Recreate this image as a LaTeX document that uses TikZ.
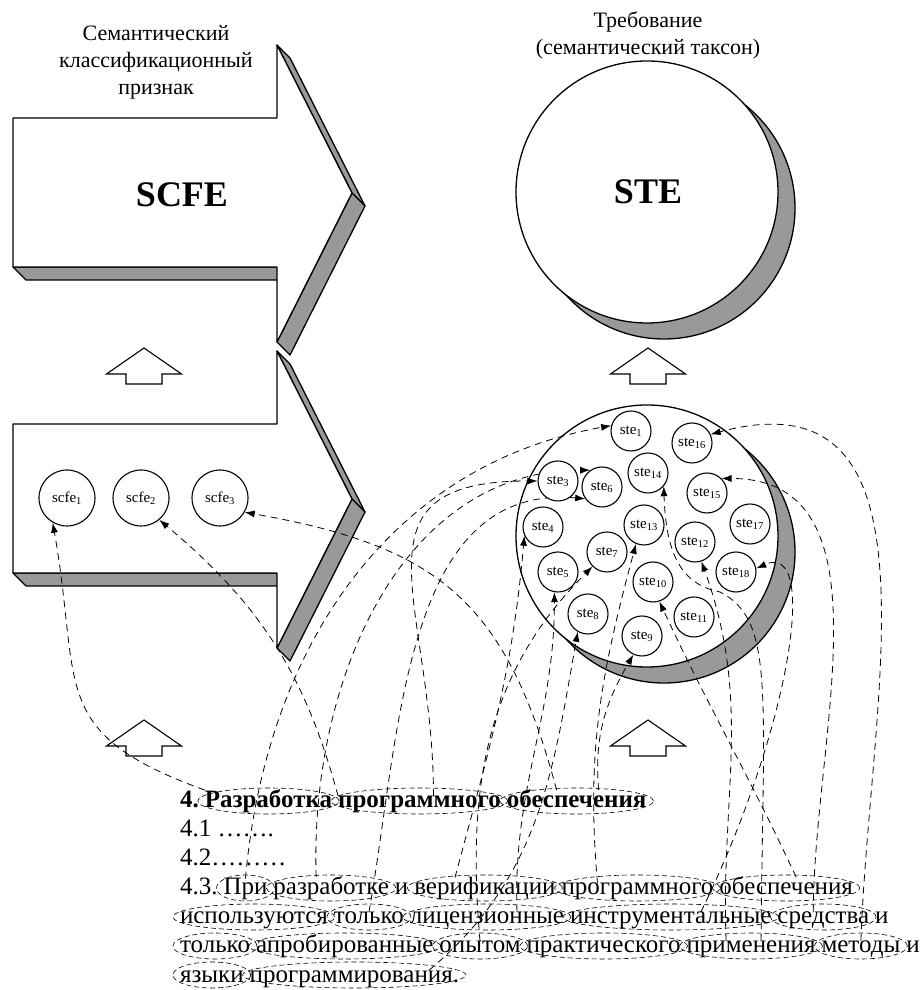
\documentclass[tikz,border=0pt]{standalone}
\usepackage{fontspec}
\setmainfont{Liberation Serif}
\usetikzlibrary{arrows.meta,positioning,calc}
\pgfdeclarelayer{shapes}
\pgfdeclarelayer{links}
\pgfsetlayers{shapes,links,main}
\newcommand\wordfont{\fontsize{25}{29}\selectfont}
\newcommand\capfont{\fontsize{22}{27}\selectfont}
\tikzset{
  frontface/.style={draw,line width=1.3pt,fill=white,line join=round},
  sideface/.style ={draw,line width=1.3pt,fill=black!40,line join=round},
  ste/.style      ={circle,draw,line width=1.1pt,fill=white,inner sep=0pt,minimum size=40pt,font=\fontsize{15}{16}\selectfont},
  scfe/.style     ={ste,minimum size=56pt},
  bigname/.style  ={font=\bfseries\fontsize{36}{40}\selectfont},
  caption/.style  ={align=center,font=\capfont},
  word/.style     ={inner sep=0pt,outer sep=0pt,font=\wordfont},
  boldword/.style ={word,font=\bfseries\wordfont},
  oval/.style     ={line width=0.6pt,dash pattern=on 5pt off 3pt},
  link/.style     ={line width=0.8pt,dash pattern=on 7pt off 5pt,-{Latex[length=10pt,width=7pt]}},
  upblock/.pic    ={\draw[line width=1.1pt,fill=white] (0,0) -- (37.5,-26) -- (18,-26) -- (18,-36)
                      -- (-18,-36) -- (-18,-26) -- (-37.5,-26) -- cycle;}
}

\begin{document}
\begin{tikzpicture}[x=1pt,y=1pt,node distance=6pt]
  \useasboundingbox (0,0) rectangle (920,990);

  % block arrows and discs with their shadows
  \begin{pgfonlayer}{shapes}
    \foreach \dy in {0,-306}{
      \begin{scope}[yshift=\dy pt]
        \draw[sideface] (13,723) -- (277,723) -- (290,710) -- (26,710) -- cycle;
        \draw[sideface] (277,945) -- (290,932) -- (365,784) -- (352,797) -- cycle;
        \draw[sideface] (352,797) -- (365,784) -- (290,635) -- (277,648) -- cycle;
        \draw[frontface] (13,872) -- (277,872) -- (277,945) -- (352,797) -- (277,648)
          -- (277,723) -- (13,723) -- cycle;
      \end{scope}}
    \draw[sideface] (664,782) circle (131);
    \draw[frontface] (647,798) circle (131);
    \draw[sideface] (664,438) circle (131);
    \draw[frontface] (647,454) circle (131);
    \foreach \x/\y in {144/642,648/642,144/270,648/270}
      \pic at (\x,\y) {upblock};
  \end{pgfonlayer}

  \node[bigname] (scfename) at (182,795) {SCFE};
  \node[bigname] (stename) at (648,798) {STE};
  \node[caption] (scfecap) at (156,928) {Семантический\\классификационный\\признак};
  \node[caption] (stecap) at (648,955) {Требование\\(семантический таксон)};

  \foreach \i/\x in {1/67,2/141,3/220}
    \node[scfe] (scfe\i) at (\x,492) {scfe\textsubscript{\i}};
  \foreach \i/\x/\y in {1/631/559,3/558/509,4/543/463,5/558/418,6/602/503,7/607/438,
                        8/588/376,9/642/354,10/653/408,11/694/373,12/695/448,13/644/465,
                        14/648/517,15/707/497,16/692/547,17/750/466,18/736/418}
    \node[ste] (ste\i) at (\x,\y) {ste\textsubscript{\i}};

  % requirement text, word by word
  \node[boldword,anchor=base west] (L1-1) at (180,182) {4.};
  \node[boldword,base right=of L1-1] (L1-2) {Разработка};
  \node[boldword,base right=of L1-2] (L1-3) {программного};
  \node[boldword,base right=of L1-3] (L1-4) {обеспечения};
  \node[word,anchor=base west] (L2) at (180,153) {4.1 …….};
  \node[word,anchor=base west] (L3) at (180,124) {4.2………};
  \node[word,anchor=base west] (L4-1) at (180,95) {4.3.};
  \node[word,base right=of L4-1] (L4-2) {При};
  \node[word,base right=of L4-2] (L4-3) {разработке};
  \node[word,base right=of L4-3] (L4-4) {и};
  \node[word,base right=of L4-4] (L4-5) {верификации};
  \node[word,base right=of L4-5] (L4-6) {программного};
  \node[word,base right=of L4-6] (L4-7) {обеспечения};
  \node[word,anchor=base west] (L5-1) at (180,66) {используются};
  \node[word,base right=of L5-1] (L5-2) {только};
  \node[word,base right=of L5-2] (L5-3) {лицензионные};
  \node[word,base right=of L5-3] (L5-4) {инструментальные};
  \node[word,base right=of L5-4] (L5-5) {средства};
  \node[word,base right=of L5-5] (L5-6) {и};
  \node[word,anchor=base west] (L6-1) at (180,37) {только};
  \node[word,base right=of L6-1] (L6-2) {апробированные};
  \node[word,base right=of L6-2] (L6-3) {опытом};
  \node[word,base right=of L6-3] (L6-4) {практического};
  \node[word,base right=of L6-4] (L6-5) {применения};
  \node[word,base right=of L6-5] (L6-6) {методы};
  \node[word,base right=of L6-6] (L6-7) {и};
  \node[word,anchor=base west] (L7-1) at (180,8) {языки};
  \node[word,base right=of L7-1] (L7-2) {программирования.};

  \foreach \w in {L1-2,L1-3,L1-4,L4-2,L4-3,L4-5,L4-6,L4-7,L5-1,L5-2,L5-3,L5-4,L5-5,
                  L6-1,L6-2,L6-3,L6-4,L6-5,L6-6,L7-1,L7-2}
    \draw[oval] let \p1=($(\w.east)-(\w.west)$) in
      ([yshift=7pt]\w.base) ellipse [x radius=0.5*\x1+7pt, y radius=13pt];

  % links from words to features and taxa
  \coordinate (k14) at (720,398);
  \begin{pgfonlayer}{links}
    \draw[link] (L1-2.north west) to[out=160,in=-80,looseness=1.4] (scfe1.-120);
    \draw[link] (L1-3.north west) to[out=105,in=-40] (scfe2.-50);
    \draw[link] ([xshift=-20pt]L1-4.north) to[out=105,in=-10,looseness=1.2] (scfe3.-30);
    \draw[link] (L4-2.north) to[out=85,in=190] (ste1.165);
    \draw[link] ([xshift=-15pt]L4-3.north) to[out=92,in=180] (ste6.125);
    \draw[link] ([xshift=14pt]L1-3.north) to[out=90,in=180,looseness=1.5] (ste3.west);
    \draw[link] (L5-2.north) to[out=80,in=175] (ste6.215);
    \draw[link] ([xshift=-30pt]L4-5.north) to[out=75,in=-95] (ste4.205);
    \draw[link] ([xshift=30pt]L5-3.north) to[out=92,in=-90] (ste5.-100);
    \draw[link] (L6-3.north) to[out=95,in=-135] (ste7.-135);
    \draw[link] ([xshift=-30pt]L7-2.north east) to[out=40,in=-100] (ste8.-120);
    \draw[link] ([xshift=22pt]L1-4.north) to[out=95,in=-120] (ste9.-115);
    \draw[link] ([xshift=-40pt]L4-6.north) to[out=95,in=-105] (ste13.-113);
    \draw[link] ([xshift=10pt]L4-7.north) to[out=115,in=-65] (ste10.-72);
    \draw[link] ([xshift=-25pt]L6-5.north) to[out=92,in=-70] (ste12.-72);
    \draw[link] ([xshift=10pt]L6-5.north) .. controls +(2,250) and (775,370) .. (k14)
      .. controls (685,405) and (666,430) .. (ste14.-40);
    \draw[link] ([xshift=-10pt]L5-5.north) to[out=90,in=0] (ste15.45);
    \draw[link] (L6-6.north) to[out=88,in=15,looseness=1.2] (ste16.25);
    \draw[link] ([xshift=30pt]L5-4.north) .. controls (790,260) and (820,450) .. (ste18.10);
  \end{pgfonlayer}
\end{tikzpicture}
\end{document}
